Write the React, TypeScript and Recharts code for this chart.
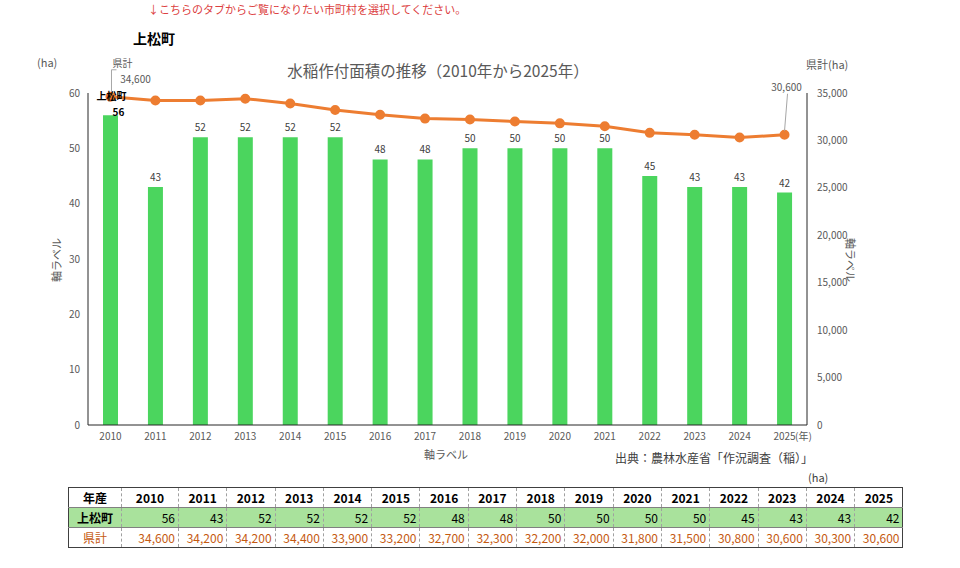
import { ComposedChart, Bar, Line, XAxis, YAxis, LabelList } from 'recharts';

const years = ['2010', '2011', '2012', '2013', '2014', '2015', '2016', '2017', '2018', '2019', '2020', '2021', '2022', '2023', '2024', '2025'];
const town = [56, 43, 52, 52, 52, 52, 48, 48, 50, 50, 50, 50, 45, 43, 43, 42];
const pref = [34600, 34200, 34200, 34400, 33900, 33200, 32700, 32300, 32200, 32000, 31800, 31500, 30800, 30600, 30300, 30600];
const leftTicks = [0, 10, 20, 30, 40, 50, 60];
const rightTicks = [0, 5000, 10000, 15000, 20000, 25000, 30000, 35000];

const FONT = '"Noto Sans CJK JP", "Noto Sans", sans-serif';
const GRAY = '#595959';
const GREEN = '#4bd55e';
const ORANGE = '#ed7d31';

const fmt = (v: number) => v.toLocaleString('en-US');

function BarLabel(props: any) {
  const { x, y, width, value, index } = props;
  const cx = x + width / 2;
  if (index === 0) {
    return (
      <g>
        <text x={cx + 1} y={y - 15} textAnchor="middle" fontSize={10} fontWeight="bold" fill="#000">上松町</text>
        <text x={cx + 8} y={y + 1} textAnchor="middle" fontSize={10} fontWeight="bold" fill="#000">{value}</text>
      </g>
    );
  }
  return <text x={cx} y={y - 6} textAnchor="middle" fontSize={10} fill="#404040">{value}</text>;
}

function LineLabel(props: any) {
  const { x, y, value, index } = props;
  if (index === 0) {
    return (
      <g>
        <path d={`M ${x + 6} ${y - 27} L ${x + 1} ${y - 27} L ${x + 1} ${y - 5}`} stroke="#a6a6a6" fill="none" strokeWidth={1} />
        <text x={x + 12} y={y - 30} textAnchor="middle" fontSize={10} fill={GRAY}>県計</text>
        <text x={x + 25} y={y - 14} textAnchor="middle" fontSize={10} fill={GRAY}>{fmt(value)}</text>
      </g>
    );
  }
  if (index === years.length - 1) {
    return (
      <g>
        <path d={`M ${x + 3} ${y - 41} L ${x} ${y - 4}`} stroke="#a6a6a6" fill="none" strokeWidth={1} />
        <text x={x + 2} y={y - 44} textAnchor="middle" fontSize={10} fill={GRAY}>{fmt(value)}</text>
      </g>
    );
  }
  return null;
}

const abs = (left: number, top: number, extra: React.CSSProperties = {}): React.CSSProperties => ({
  position: 'absolute',
  left,
  top,
  whiteSpace: 'nowrap',
  lineHeight: 1,
  ...extra,
});

export default function App() {
  const data = years.map((year, i) => ({ year, town: town[i], pref: pref[i] }));
  const cell: React.CSSProperties = {
    borderLeft: '1px dashed #a0a0a0',
    borderBottom: '1px solid #808080',
    padding: '0 3px',
    height: 19,
    fontSize: 12,
  };

  return (
    <div style={{ position: 'absolute', left: 0, top: 0, width: 960, height: 568, fontFamily: FONT, background: '#fff' }}>
      <div style={abs(148, 4, { fontSize: 11, color: '#dc4040' })}>↓こちらのタブからご覧になりたい市町村を選択してください。</div>
      <div style={abs(133, 31, { fontSize: 14, fontWeight: 'bold', color: '#000' })}>上松町</div>
      <div style={abs(37, 57, { fontSize: 11, color: GRAY })}>(ha)</div>
      <div style={abs(806, 59, { fontSize: 11, color: GRAY })}>県計(ha)</div>
      <div style={abs(0, 63, { width: 876, textAlign: 'center', fontSize: 15.5, color: GRAY })}>水稲作付面積の推移（2010年から2025年）</div>

      <div style={{ position: 'absolute', left: 0, top: 0 }}>
        <ComposedChart width={960} height={470} data={data} margin={{ top: 93, right: 93, bottom: 15, left: 0 }}>
          <XAxis
            dataKey="year"
            height={30}
            tickLine={false}
            axisLine={{ stroke: '#262626' }}
            tick={{ fontSize: 10, fill: GRAY }}
            interval={0}
          />
          <YAxis
            yAxisId="left"
            width={88}
            domain={[0, 60]}
            ticks={leftTicks}
            tickLine={false}
            axisLine={{ stroke: '#262626' }}
            tick={{ fontSize: 10, fill: GRAY }}
          />
          <YAxis
            yAxisId="right"
            orientation="right"
            width={60}
            domain={[0, 35000]}
            ticks={rightTicks}
            tickLine={false}
            tickMargin={4}
            axisLine={{ stroke: '#262626' }}
            tick={{ fontSize: 10, fill: GRAY }}
            tickFormatter={fmt}
            textAnchor="start"
          />
          <Bar yAxisId="left" dataKey="town" fill={GREEN} barSize={15} isAnimationActive={false}>
            <LabelList dataKey="town" content={BarLabel} />
          </Bar>
          <Line
            yAxisId="right"
            dataKey="pref"
            stroke={ORANGE}
            strokeWidth={3}
            dot={{ r: 3.5, fill: ORANGE, stroke: ORANGE }}
            isAnimationActive={false}
          >
            <LabelList dataKey="pref" content={LineLabel} />
          </Line>
        </ComposedChart>
      </div>

      <div style={abs(795, 431, { fontSize: 10, color: GRAY })}>(年)</div>
      <div style={abs(424, 449, { fontSize: 11, color: GRAY })}>軸ラベル</div>
      <div style={abs(615, 452, { fontSize: 12, color: '#404040' })}>出典：農林水産省「作況調査（稲）」</div>
      <div style={abs(808, 472, { fontSize: 11, color: '#404040' })}>(ha)</div>
      <div style={abs(56, 260, { fontSize: 11, color: GRAY, transform: 'translate(-50%, -50%) rotate(-90deg)' })}>軸ラベル</div>
      <div style={abs(850, 260, { fontSize: 11, color: GRAY, transform: 'translate(-50%, -50%) rotate(90deg)' })}>軸ラベル</div>

      <table
        style={{
          position: 'absolute',
          left: 68,
          top: 487,
          width: 834,
          borderCollapse: 'collapse',
          border: '1px solid #404040',
          tableLayout: 'fixed',
          fontFamily: FONT,
        }}
      >
        <colgroup>
          <col style={{ width: 53 }} />
          <col style={{ width: 57 }} />
          {years.slice(1).map((y) => (
            <col key={y} style={{ width: 48.3 }} />
          ))}
        </colgroup>
        <tbody>
          <tr>
            <td style={{ ...cell, borderLeft: 'none', textAlign: 'center', fontWeight: 'bold' }}>年産</td>
            {years.map((y) => (
              <td key={y} style={{ ...cell, textAlign: 'center', fontWeight: 'bold' }}>{y}</td>
            ))}
          </tr>
          <tr style={{ background: '#a9e29c' }}>
            <td style={{ ...cell, borderLeft: 'none', textAlign: 'center', fontWeight: 'bold' }}>上松町</td>
            {town.map((v, i) => (
              <td key={i} style={{ ...cell, textAlign: 'right' }}>{v}</td>
            ))}
          </tr>
          <tr>
            <td style={{ ...cell, borderLeft: 'none', borderBottom: 'none', textAlign: 'center', color: '#c55a11' }}>県計</td>
            {pref.map((v, i) => (
              <td key={i} style={{ ...cell, borderBottom: 'none', textAlign: 'right', color: '#c55a11' }}>{fmt(v)}</td>
            ))}
          </tr>
        </tbody>
      </table>
    </div>
  );
}
